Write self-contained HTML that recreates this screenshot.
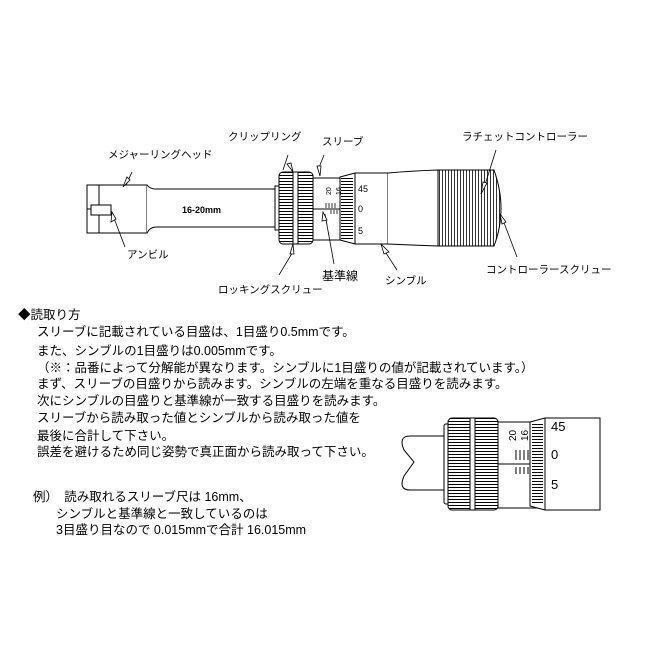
<!DOCTYPE html>
<html><head><meta charset="utf-8"><style>
body{margin:0;background:#fff;width:650px;height:650px;overflow:hidden;position:relative;font-family:"Liberation Sans","Noto Sans CJK JP",sans-serif;color:#000}
.t{position:absolute;font-size:12.5px;white-space:nowrap;line-height:14px}
svg{position:absolute;left:0;top:0}
</style></head><body>
<svg width="650" height="650" viewBox="0 0 650 650" font-family="Liberation Sans,Noto Sans CJK JP,sans-serif">
<defs>
<pattern id="kn" width="4" height="3" patternUnits="userSpaceOnUse"><rect width="4" height="3" fill="#fff"/><line x1="0" y1="1.5" x2="4" y2="1.5" stroke="#000" stroke-width="1"/></pattern>
<pattern id="kv" width="3" height="4" patternUnits="userSpaceOnUse"><rect width="3" height="4" fill="#fff"/><line x1="1.5" y1="0" x2="1.5" y2="4" stroke="#000" stroke-width="0.8"/></pattern>
</defs>
<g fill="#fff" stroke="#000" stroke-width="1">
<rect x="87" y="185" width="60" height="48"/>
<line x1="99" y1="185" x2="99" y2="233"/>
<line x1="99" y1="209" x2="87" y2="209"/>
<rect x="91" y="205" width="20" height="10"/>
<path d="M147 185 Q150 189 156 189 L275 189 L275 227 L156 227 Q150 227 147 233"/>
<rect x="275" y="186" width="5" height="44"/>
<text x="182" y="213" font-size="9" fill="#000" stroke="none" font-weight="bold">16-20mm</text>
<rect x="279" y="172" width="34" height="72" rx="4" fill="url(#kn)"/>
<rect x="293" y="172" width="5" height="72" fill="#fff"/>
<rect x="313" y="178" width="30" height="62"/>
<line x1="313" y1="209" x2="343" y2="209"/>
<path d="M340 177 L355 173 L388 173 L388 244 L355 244 L340 240 Z"/>
<rect x="341" y="178" width="12" height="61" fill="url(#kn)" stroke="none"/>
<line x1="355" y1="173" x2="355" y2="244"/>
<path d="M388 173 Q410 171 438 170 L438 246 Q410 245 388 244"/>
<path d="M438 170 L494 170 Q501 190 501 208 Q501 228 494 246 L438 246 Z" fill="url(#kv)"/>
</g>
<g font-size="9" fill="#000">
<text x="358" y="192">45</text><text x="358" y="212">0</text><text x="358" y="234">5</text>
<text transform="translate(331,195) rotate(-90)" font-size="7">20</text>
<text transform="translate(341,195) rotate(-90)" font-size="7">16</text>
</g>
<g stroke="#000" stroke-width="0.8">
<line x1="326" y1="203" x2="326" y2="208"/><line x1="329" y1="203" x2="329" y2="208"/><line x1="332" y1="203" x2="332" y2="208"/><line x1="335" y1="203" x2="335" y2="208"/>
<line x1="331" y1="210" x2="331" y2="214"/><line x1="334" y1="210" x2="334" y2="214"/><line x1="337" y1="210" x2="337" y2="214"/>
</g>
<g stroke="#000" stroke-width="0.8" fill="#fff">
<line x1="126" y1="185" x2="132" y2="172"/><polygon points="123,187 127,177 130,180"/>
<line x1="112" y1="213" x2="125" y2="247"/><polygon points="112,212 111,222 116,219"/>
<line x1="283" y1="170" x2="288" y2="155"/><polygon points="293,172 287,164 291,163"/>
<line x1="318" y1="170" x2="324" y2="155"/><polygon points="320,176 317,166 321,166"/>
<line x1="325" y1="214" x2="334" y2="264"/><polygon points="323,212 322,221 327,220"/>
<line x1="294" y1="250" x2="279" y2="275"/><polygon points="293,244 290,254 294,254"/>
<line x1="384" y1="250" x2="397" y2="270"/><polygon points="381,244 384,254 389,252"/>
<line x1="484" y1="188" x2="496" y2="150"/><polygon points="481,194 483,182 487,183"/>
<line x1="503" y1="220" x2="517" y2="257"/><polygon points="500,214 502,224 506,222"/>
</g>
<g font-size="10.5" fill="#000">
<text x="108" y="158">メジャーリングヘッド</text>
<text x="228" y="140">クリップリング</text>
<text x="322" y="145">スリーブ</text>
<text x="462" y="140">ラチェットコントローラー</text>
<text x="127" y="258">アンビル</text>
<text x="322" y="280" font-size="12">基準線</text>
<text x="385" y="284">シンブル</text>
<text x="218" y="293">ロッキングスクリュー</text>
<text x="486" y="273">コントローラースクリュー</text>
</g>
<g fill="#fff" stroke="#000" stroke-width="1">
<path d="M446 436 L410 436 Q398 436 404 450 L414 462 L404 476 Q398 490 410 490 L446 490"/>
<rect x="444" y="424" width="8" height="80" rx="2"/>
<rect x="448" y="418" width="50" height="92" rx="4" fill="url(#kn)"/>
<rect x="470" y="418" width="5" height="92" fill="#fff"/>
<rect x="498" y="422" width="45" height="86"/>
<line x1="498" y1="464" x2="543" y2="464"/>
<path d="M530 422 L545 418 L600 418 L600 510 L545 510 L530 506 Z"/>
<rect x="532" y="423" width="11" height="82" fill="url(#kn)" stroke="none"/>
<line x1="545" y1="418" x2="545" y2="510"/>
</g>
<g font-size="13" fill="#000">
<text x="551" y="431">45</text><text x="551" y="459">0</text><text x="551" y="489">5</text>
<text transform="translate(516,441) rotate(-90)" font-size="10">20</text>
<text transform="translate(528,441) rotate(-90)" font-size="10">16</text>
</g>
<g stroke="#000" stroke-width="1">
<line x1="516" y1="450" x2="516" y2="460"/><line x1="520" y1="450" x2="520" y2="460"/><line x1="524" y1="450" x2="524" y2="460"/><line x1="528" y1="450" x2="528" y2="460"/>
<line x1="516" y1="467" x2="516" y2="474"/><line x1="520" y1="467" x2="520" y2="474"/><line x1="524" y1="467" x2="524" y2="474"/><line x1="528" y1="467" x2="528" y2="474"/>
</g>
</svg>
<div class="t" style="left:18px;top:308px">◆読取り方</div>
<div class="t" style="left:37px;top:325px">スリーブに記載されている目盛は、1目盛り0.5mmです。</div>
<div class="t" style="left:37px;top:344px">また、シンブルの1目盛りは0.005mmです。</div>
<div class="t" style="left:37px;top:361px">（※：品番によって分解能が異なります。シンブルに1目盛りの値が記載されています。）</div>
<div class="t" style="left:37px;top:377px">まず、スリーブの目盛りから読みます。シンブルの左端を重なる目盛りを読みます。</div>
<div class="t" style="left:37px;top:394px">次にシンブルの目盛りと基準線が一致する目盛りを読みます。</div>
<div class="t" style="left:37px;top:411px">スリーブから読み取った値とシンブルから読み取った値を</div>
<div class="t" style="left:37px;top:429px">最後に合計して下さい。</div>
<div class="t" style="left:37px;top:445px">誤差を避けるため同じ姿勢で真正面から読み取って下さい。</div>
<div class="t" style="left:33px;top:490px">例）　読み取れるスリーブ尺は 16mm、</div>
<div class="t" style="left:56px;top:507px">シンブルと基準線と一致しているのは</div>
<div class="t" style="left:56px;top:523px">3目盛り目なので 0.015mmで合計 16.015mm</div>
</body></html>
